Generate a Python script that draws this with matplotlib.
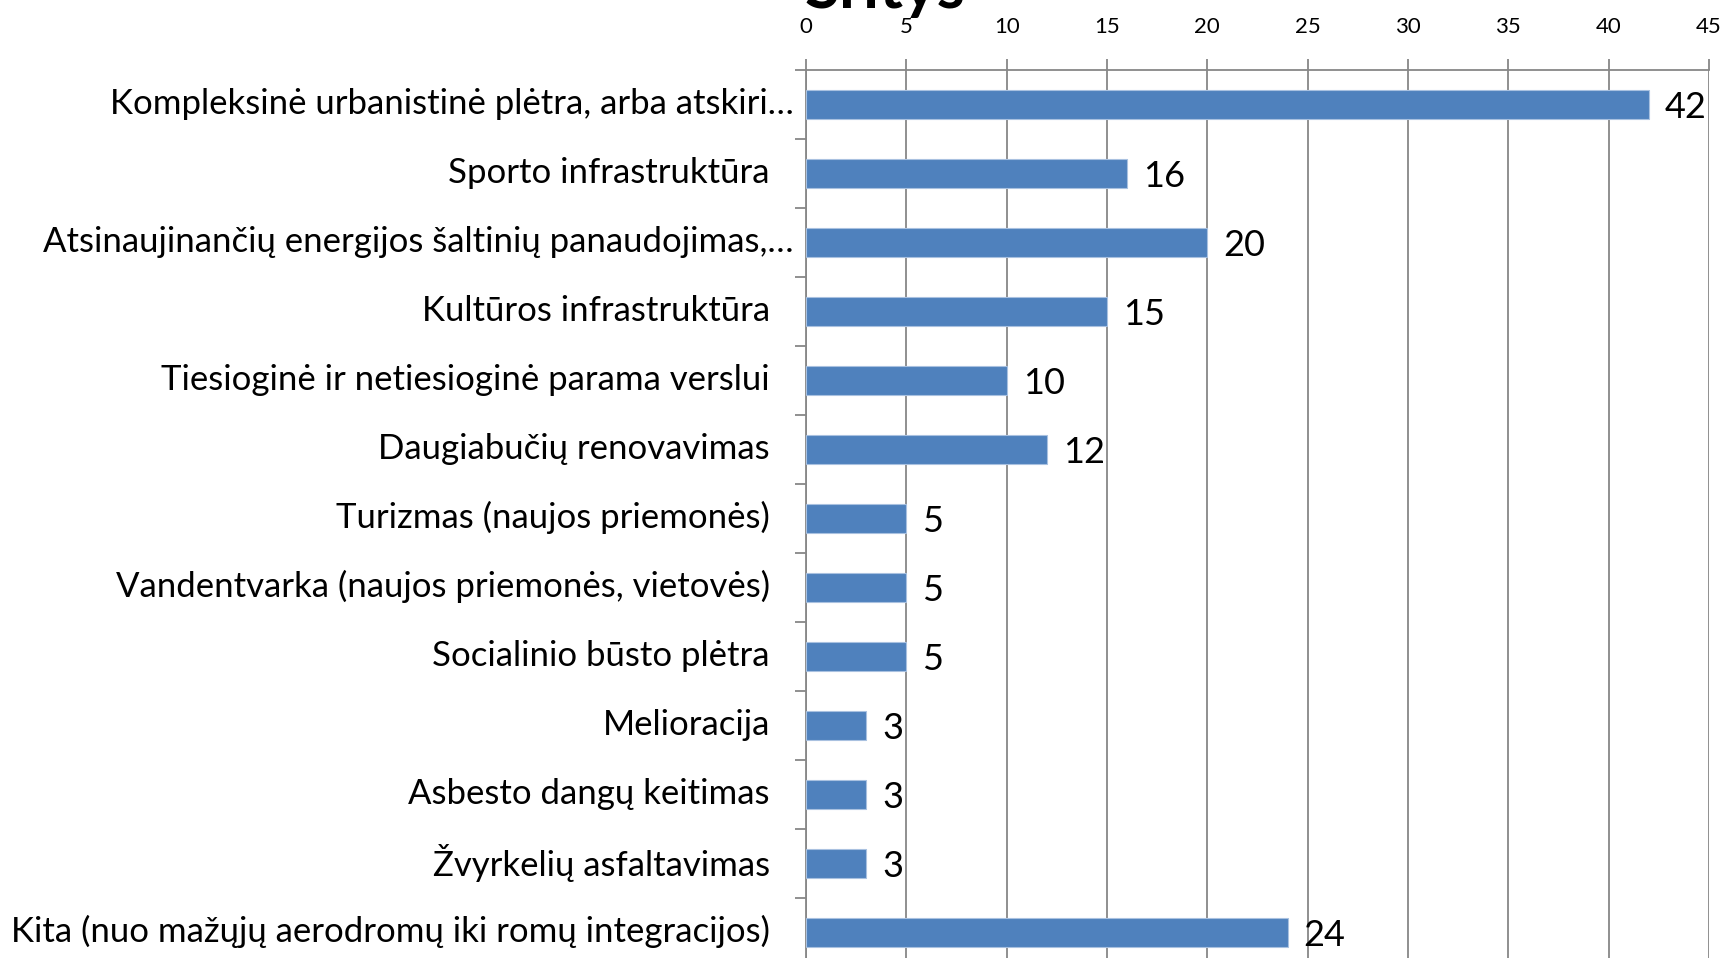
import matplotlib
matplotlib.use("Agg")
import matplotlib.pyplot as plt
import matplotlib.transforms as mtransforms

plt.rcParams['font.family'] = ['Lato', 'DejaVu Sans']

categories = [
    "Kompleksinė urbanistinė plėtra, arba atskiri…",
    "Sporto infrastruktūra",
    "Atsinaujinančių energijos šaltinių panaudojimas,…",
    "Kultūros infrastruktūra",
    "Tiesioginė ir netiesioginė parama verslui",
    "Daugiabučių renovavimas",
    "Turizmas (naujos priemonės)",
    "Vandentvarka (naujos priemonės, vietovės)",
    "Socialinio būsto plėtra",
    "Melioracija",
    "Asbesto dangų keitimas",
    "Žvyrkelių asfaltavimas",
    "Kita (nuo mažųjų aerodromų iki romų integracijos)",
]
values = [42, 16, 20, 15, 10, 12, 5, 5, 5, 3, 3, 3, 24]
xticks = [0, 5, 10, 15, 20, 25, 30, 35, 40, 45]
title = "Sritys"

bar_color = "#4F81BD"
grid_color = "#878787"

fig = plt.figure(figsize=(17.25, 9.58), dpi=100)
ax = fig.add_axes([806 / 1725, -9 / 958, (1709 - 806) / 1725, (958 - 70 + 9) / 958])

y = list(range(len(categories)))
ax.barh(y, values, height=0.41, color=bar_color, edgecolor="#a9c1e0", linewidth=0.8, zorder=3)

for yi, v in zip(y, values):
    ax.annotate(str(v), (v, yi), xytext=(16, -3), textcoords="offset pixels",
                ha="left", va="center", fontsize=26, color="black")

ax.set_xlim(0, 45)
ax.set_ylim(len(categories) - 0.5, -0.5)
ax.set_xticks(xticks)
ax.xaxis.tick_top()
ax.tick_params(axis="x", which="major", direction="out", length=8, width=1.3,
               color=grid_color, pad=16, labelsize=16)
ax.grid(axis="x", color=grid_color, linewidth=1.3, zorder=0)

ax.set_yticks(y)
ax.set_yticklabels(categories, fontsize=25)
ax.set_yticks([i - 0.5 for i in range(len(categories) + 1)], minor=True)
ax.tick_params(axis="y", which="major", length=0, pad=26)
ax.tick_params(axis="y", which="minor", direction="out", length=8, width=1.3, color=grid_color)

# labels sit a little above bar centre; truncated ones hug the axis
for lab in ax.get_yticklabels():
    dx = 24 if lab.get_text().endswith("…") else 0
    lab.set_transform(lab.get_transform() + mtransforms.ScaledTranslation(dx / 100, 4 / 100, fig.dpi_scale_trans))

for side in ["right", "bottom"]:
    ax.spines[side].set_visible(False)
for side in ["top", "left"]:
    ax.spines[side].set_color(grid_color)
    ax.spines[side].set_linewidth(1.3)

fig.text(885 / 1725, 1 - 8 / 958, title, ha="center", va="baseline",
         fontsize=46, fontweight="bold", color="black")

fig.savefig("out.png", dpi=100)
